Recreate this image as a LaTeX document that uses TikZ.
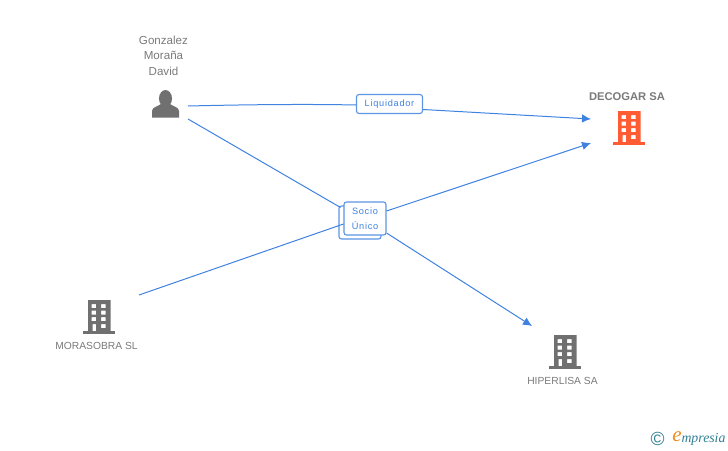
\documentclass[tikz,border=0pt]{standalone}
\usepackage{fontspec}
\setmainfont{Liberation Sans}
\newfontfamily\logofont{Liberation Serif}
\usetikzlibrary{arrows.meta}

\definecolor{linkblue}{HTML}{3F82E0}
\definecolor{boxblue}{HTML}{5C95E4}
\definecolor{labelgray}{HTML}{7A7A7A}
\definecolor{icongray}{HTML}{707070}
\definecolor{iconred}{HTML}{FF5C33}
\definecolor{logoteal}{HTML}{2F7F93}
\definecolor{logoorange}{HTML}{F08A1D}

\tikzset{
    link/.style={draw=linkblue,line width=1pt},
    linkto/.style={link,-{Latex[length=9pt,width=8.5pt]}},
    rolebox/.style={draw=boxblue,line width=1.1pt,fill=white,rounded corners=2.5pt,
        text=linkblue,font=\fontsize{9.2}{15.5}\selectfont\addfontfeatures{LetterSpace=8},align=center,inner sep=0pt},
    entity/.style={text=labelgray,font=\fontsize{10.3}{10.3}\selectfont,inner sep=0pt,align=center},
    pics/building/.style={code={
        \fill[#1,even odd rule] (-10.5,-17) rectangle (12,14)
            (-6.8,-13) rectangle (-2.5,-9) (2.5,-13) rectangle (7.2,-9)
            (-6.8,-6.5) rectangle (-2.5,-2.5) (2.5,-6.5) rectangle (7.2,-2.5)
            (-6.8,0) rectangle (-2.5,4) (2.5,0) rectangle (7.2,4)
            (-6,7) rectangle (-2.5,14) (2.5,7) rectangle (7.2,11);
        \fill[#1] (-15.5,14) rectangle (16.5,17);
    }}
}

\begin{document}
\begin{tikzpicture}[x=1pt,y=-1pt]
    \useasboundingbox (0,0) rectangle (728,450);

    % person
    \fill[icongray] (165.5,98.5) ellipse (6.5 and 8.5);
    \fill[icongray] (152,117.5) -- (152,111) .. controls (152,107) and (158,106.5) .. (161,104)
        -- (170,104) .. controls (173,106.5) and (179,107) .. (179,111) -- (179,117.5) -- cycle;
    \node[entity,font=\fontsize{11.6}{15.5}\selectfont] (gonzalez) at (163.5,55.5) {Gonzalez\\Moraña\\David};

    % companies
    \pic at (628.5,128) {building=iconred};
    \pic at (98.5,317) {building=icongray};
    \pic at (564.5,352) {building=icongray};
    \node[entity,font=\bfseries\fontsize{11.2}{11.2}\selectfont] (decogar) at (627,97) {DECOGAR SA};
    \node[entity] (morasobra) at (96.5,346) {MORASOBRA SL};
    \node[entity] (hiperlisa) at (562.5,381) {HIPERLISA SA};

    % free ends
    \coordinate (gonzalezA) at (188,106);
    \coordinate (gonzalezB) at (188,119);
    \coordinate (morasobraA) at (139,295);
    \coordinate (decogarA) at (591,119);
    \coordinate (decogarB) at (591,143);
    \coordinate (hiperlisaA) at (532,326);

    % role boxes
    \node[rolebox,minimum width=66pt,minimum height=19pt] (liquidador) at (389.5,104) {Liquidador};
    \node[rolebox,minimum width=42pt,minimum height=33pt] (socioback) at (360,222.5) {};
    \node[rolebox,minimum width=42pt,minimum height=33pt] (socio) at (365,218.5) {Socio\\Único};

    \draw[link] (gonzalezA) .. controls (250,104.5) and (310,104) .. ([yshift=-1pt]liquidador.west);
    \draw[linkto] ([yshift=-5.5pt]liquidador.east) -- (decogarA);
    \draw[link] (gonzalezB) -- ([xshift=2pt,yshift=-2pt]socioback.north west);
    \draw[link] (morasobraA) -- ([yshift=-5.5pt]socio.west);
    \draw[linkto] ([yshift=7.5pt]socio.east) -- (decogarB);
    \draw[linkto] ([yshift=-14.5pt]socio.east) -- (hiperlisaA);

    % logo
    \node[text=logoteal,font=\fontsize{19}{19}\selectfont,inner sep=0pt] (copyright) at (657.5,438.5) {©};
    \node[text=logoteal,font=\logofont\itshape\fontsize{13.8}{13.8}\selectfont,inner sep=0pt] (empresia) at (703.5,439) {mpresia};
    \node[text=logoorange,font=\logofont\itshape\fontsize{21}{21}\selectfont,inner sep=0pt] (logoe) at (677,437) {e};
\end{tikzpicture}
\end{document}
